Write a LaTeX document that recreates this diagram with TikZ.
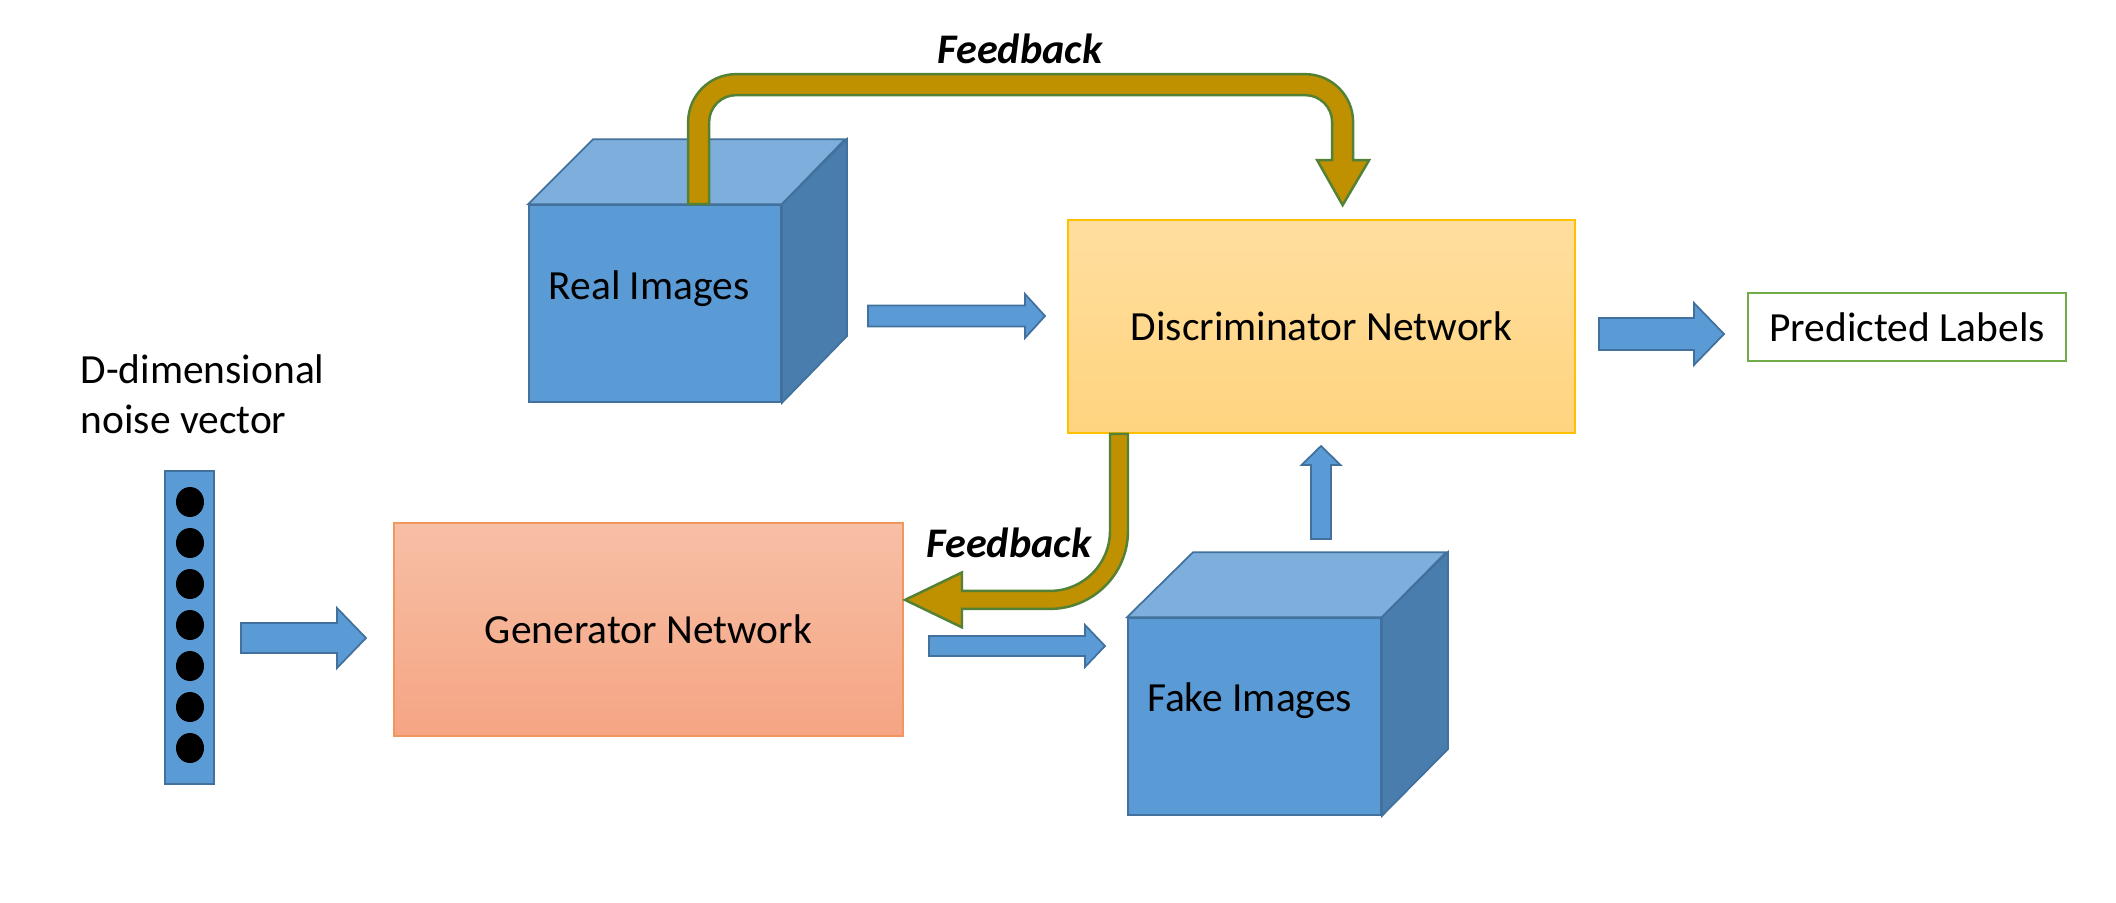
\documentclass[tikz,border=0pt]{standalone}
\usepackage{fontspec}
\setmainfont{Carlito}
\usepackage{tikz}
\usetikzlibrary{calc}

\definecolor{cubefront}{RGB}{91,155,213}
\definecolor{cubetop}{RGB}{125,174,220}
\definecolor{cubeside}{RGB}{72,125,173}
\definecolor{blueline}{RGB}{65,113,156}
\definecolor{discup}{RGB}{255,222,158}
\definecolor{discdown}{RGB}{255,212,127}
\definecolor{discline}{RGB}{255,192,0}
\definecolor{genup}{RGB}{247,191,166}
\definecolor{gendown}{RGB}{245,165,131}
\definecolor{genline}{RGB}{241,150,95}
\definecolor{fbfill}{RGB}{191,144,0}
\definecolor{fbline}{RGB}{83,129,53}
\definecolor{predline}{RGB}{112,173,71}

\tikzset{
    txt/.style={font=\fontsize{11.8}{14.2}\selectfont},
    fbtxt/.style={font=\fontsize{12}{14}\selectfont\bfseries\itshape},
    face/.style={draw=blueline, fill=cubefront, line width=0.5pt, inner sep=0pt},
    blockarrow/.style={draw=blueline, fill=cubefront, line width=0.5pt, line join=miter},
    feedback/.style={draw=fbline, fill=fbfill, line width=0.7pt},
}

% block arrow: from, to, half shaft, half head, head length
\newcommand{\blockarrow}[5]{%
    \coordinate (hb) at ($(#2)!#5!(#1)$);
    \filldraw[blockarrow] ($(#1)!#3!90:(#2)$) -- ($(hb)!#3!90:(#2)$) -- ($(hb)!#4!90:(#2)$)
        -- (#2) -- ($(hb)!#4!-90:(#2)$) -- ($(hb)!#3!-90:(#2)$) -- ($(#1)!#3!-90:(#2)$) -- cycle;
}

\begin{document}
\begin{tikzpicture}
    \useasboundingbox (0,0) rectangle (21.16,9.02);

    % boxes
    \node[draw=discline, line width=0.5pt, top color=discup, bottom color=discdown,
        minimum width=5.07cm, minimum height=2.13cm, txt] (disc) at (13.215,5.755) {Discriminator Network};
    \node[draw=genline, line width=0.5pt, top color=genup, bottom color=gendown,
        minimum width=5.09cm, minimum height=2.13cm, txt] (gen) at (6.485,2.725) {Generator Network};
    \node[draw=predline, line width=0.8pt, fill=white,
        minimum width=3.18cm, minimum height=0.68cm, txt] (pred) at (19.07,5.75) {Predicted Labels};

    % real images cube
    \node[face, minimum width=2.52cm, minimum height=1.97cm,
        label={[txt, xshift=-0.06cm, yshift=0.15cm]center:Real Images}] (realfront) at (6.55,5.985) {};
    \filldraw[draw=blueline, fill=cubetop, line width=0.5pt] (realfront.north west) -- ++(0.65,0.65) -- ++(2.52,0) -- (realfront.north east) -- cycle;
    \filldraw[draw=blueline, fill=cubeside, line width=0.5pt] (realfront.north east) -- ++(0.65,0.65) -- ++(0,-1.97) -- (realfront.south east) -- cycle;

    % fake images cube
    \node[face, minimum width=2.53cm, minimum height=1.97cm,
        label={[txt, xshift=-0.05cm, yshift=0.16cm]center:Fake Images}] (fakefront) at (12.545,1.855) {};
    \filldraw[draw=blueline, fill=cubetop, line width=0.5pt] (fakefront.north west) -- ++(0.66,0.65) -- ++(2.53,0) -- (fakefront.north east) -- cycle;
    \filldraw[draw=blueline, fill=cubeside, line width=0.5pt] (fakefront.north east) -- ++(0.66,0.65) -- ++(0,-1.97) -- (fakefront.south east) -- cycle;

    % noise vector
    \node[txt, align=left, anchor=north west, inner sep=0pt] (noiselabel) at (0.80,5.48) {D-dimensional\\noise vector};
    \node[face, minimum width=0.49cm, minimum height=3.13cm] (noise) at (1.895,2.745) {};
    \foreach \i in {0,...,6}
        \fill (1.90,4.00-0.41*\i) ellipse (0.14 and 0.15);

    % arrow ends
    \coordinate (n2g-s) at (2.41,2.64);
    \coordinate (n2g-e) at (3.66,2.64);
    \coordinate (r2d-s) at (8.68,5.86);
    \coordinate (r2d-e) at (10.45,5.86);
    \coordinate (g2f-s) at (9.29,2.56);
    \coordinate (g2f-e) at (11.05,2.56);
    \coordinate (f2d-s) at (13.21,3.63);
    \coordinate (f2d-e) at (13.21,4.56);
    \coordinate (d2p-s) at (15.99,5.68);
    \coordinate (d2p-e) at (17.24,5.68);

    \blockarrow{n2g-s}{n2g-e}{0.15cm}{0.30cm}{0.29cm}
    \blockarrow{r2d-s}{r2d-e}{0.105cm}{0.22cm}{0.20cm}
    \blockarrow{g2f-s}{g2f-e}{0.10cm}{0.21cm}{0.20cm}
    \blockarrow{f2d-s}{f2d-e}{0.10cm}{0.195cm}{0.19cm}
    \blockarrow{d2p-s}{d2p-e}{0.16cm}{0.31cm}{0.30cm}

    % feedback arrows
    \coordinate (fb1) at ($(realfront.north west)+(1.60,0)$);
    \filldraw[feedback] (fb1) -- ++(0,0.82) arc[start angle=180, end angle=90, radius=0.48]
        -- ++(5.69,0) arc[start angle=90, end angle=0, radius=0.48]
        -- ++(0,-0.38) -- ++(0.16,0) -- ++(-0.265,-0.45) -- ++(-0.255,0.45) -- ++(0.15,0)
        -- ++(0,0.38) arc[start angle=0, end angle=90, radius=0.27]
        -- ++(-5.69,0) arc[start angle=90, end angle=180, radius=0.27]
        -- ++(0,-0.82) -- cycle;
    \node[fbtxt, anchor=base] (fbtop) at (10.20,8.39) {Feedback};

    \coordinate (fb2) at ($(disc.south)+(-2.115,0)$);
    \filldraw[feedback] (fb2) -- ++(0,-0.97) arc[start angle=0, end angle=-90, radius=0.60]
        -- ++(-0.88,0) -- ++(0,0.185) -- ++(-0.57,-0.275) -- ++(0.57,-0.275) -- ++(0,0.185)
        -- ++(0.88,0) arc[start angle=-90, end angle=0, radius=0.78]
        -- ++(0,0.97) -- cycle;
    \node[fbtxt, anchor=base] (fbbottom) at (10.09,3.45) {Feedback};
\end{tikzpicture}
\end{document}
